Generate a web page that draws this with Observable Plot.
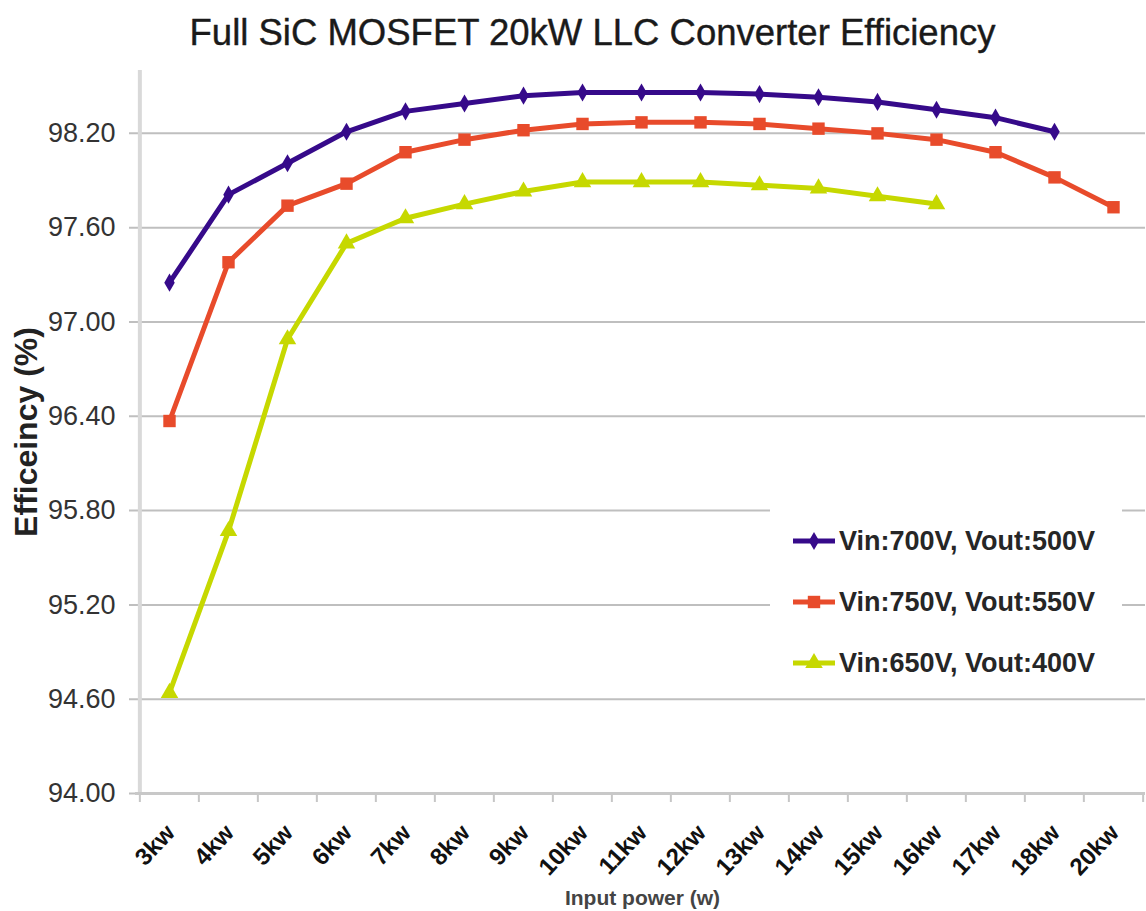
<!DOCTYPE html>
<html>
<head>
<meta charset="utf-8">
<script src="https://cdn.jsdelivr.net/npm/d3@7"></script>
<script src="https://cdn.jsdelivr.net/npm/@observablehq/plot@0.6"></script>
<style>
  html, body { margin: 0; padding: 0; background: #fff; }
  #wrap { position: relative; width: 1146px; height: 911px; font-family: "Liberation Sans", Arial, sans-serif; }
  #legend { position: absolute; left: 770px; top: 495px; width: 352px; height: 197px; background: #fff; }
  .entry { position: absolute; left: 23px; height: 40px; display: flex; align-items: center; }
  .entry span { font-size: 27px; font-weight: bold; color: #262626; margin-left: 2px; white-space: nowrap; }
</style>
</head>
<body>
<div id="wrap"></div>
<script>
// ---- data ----
const categories = ["3kw","4kw","5kw","6kw","7kw","8kw","9kw","10kw","11kw","12kw","13kw","14kw","15kw","16kw","17kw","18kw","20kw"];
const seriesNames = ["Vin:700V, Vout:500V", "Vin:750V, Vout:550V", "Vin:650V, Vout:400V"];
const vin700 = [97.25, 97.81, 98.01, 98.21, 98.34, 98.39, 98.44, 98.46, 98.46, 98.46, 98.45, 98.43, 98.40, 98.35, 98.30, 98.21];
const vin750 = [96.37, 97.38, 97.74, 97.88, 98.08, 98.16, 98.22, 98.26, 98.27, 98.27, 98.26, 98.23, 98.20, 98.16, 98.08, 97.92, 97.73];
const vin650 = [94.64, 95.67, 96.89, 97.50, 97.66, 97.75, 97.83, 97.89, 97.89, 97.89, 97.87, 97.85, 97.80, 97.75];
const yTicks = [94.0, 94.6, 95.2, 95.8, 96.4, 97.0, 97.6, 98.2];
const titleText = "Full SiC MOSFET 20kW LLC Converter Efficiency";
const yTitle = "Efficeincy (%)";
const xTitle = "Input power (w)";

// ---- styles ----
const colors = ["#360a8a", "#e84b2b", "#c6d800"];
const symbols = ["diamond", "square", "triangle"];
const radii = [5.5, 7, 6.5];

const W = 1146, H = 911;
const mL = 137, mR = 1, mT = 70, mB = 118;
const frameH = H - mT - mB;
const step = (W - mL - mR) / categories.length;

const seriesValues = [vin700, vin750, vin650];
const tables = seriesValues.map((vals, s) => vals.map((v, i) => ({cat: categories[i], value: v, series: seriesNames[s]})));

const lineMarks = [];
tables.forEach((t, s) => {
  lineMarks.push(Plot.line(t, {x: "cat", y: "value", stroke: colors[s], strokeWidth: 5, strokeLinejoin: "round"}));
});
tables.forEach((t, s) => {
  lineMarks.push(Plot.dot(t, {x: "cat", y: "value", fill: colors[s], stroke: "none", symbol: symbols[s], r: radii[s]}));
});

const chart = Plot.plot({
  width: W, height: H,
  marginLeft: mL, marginRight: mR, marginTop: mT, marginBottom: mB,
  style: {fontFamily: "'Liberation Sans', Arial, sans-serif", background: "#fff", overflow: "visible"},
  x: {type: "point", domain: categories, padding: 0.5},
  y: {domain: [94, 98.6]},
  marks: [
    // gridlines (extend left as ticks)
    Plot.ruleY(yTicks, {stroke: "#bfbfbf", strokeWidth: 2, insetLeft: -8}),
    // category boundary ticks
    Plot.ruleX(categories, {x: d => d, dx: -step / 2, insetTop: frameH, insetBottom: -9, stroke: "#c6c6c6", strokeWidth: 2}),
    Plot.ruleX([categories[categories.length - 1]], {x: d => d, dx: step / 2, insetTop: frameH, insetBottom: -9, stroke: "#c6c6c6", strokeWidth: 2}),
    // axis lines
    Plot.ruleX([categories[0]], {x: d => d, dx: -step / 2, stroke: "#d9d9d9", strokeWidth: 4}),
    Plot.ruleY([94], {stroke: "#c8c8c8", strokeWidth: 3, insetLeft: -2}),
    Plot.axisY({ticks: yTicks, tickFormat: d3.format(".2f"), tickSize: 0, tickPadding: 22, fontSize: 27, fill: "#333", label: null}),
    Plot.axisX({tickSize: 0, tickRotate: -47, tickPadding: 35, dx: 1, fontSize: 24, fontWeight: "bold", fill: "#111", label: null}),
    ...lineMarks,
    Plot.text([titleText], {text: d => d, frameAnchor: "top", dx: -49, dy: -51, fontSize: 36.5, fill: "#1a1a1a", stroke: "#1a1a1a", strokeWidth: 0.4}),
    Plot.text([yTitle], {text: d => d, frameAnchor: "left", textAnchor: "middle", dx: -111, rotate: -90, fontSize: 32, fontWeight: "bold", fill: "#222"}),
    Plot.text([xTitle], {text: d => d, frameAnchor: "bottom", dx: 1, dy: 111, fontSize: 21, fontWeight: "bold", fill: "#444"})
  ]
});
const wrap = document.getElementById("wrap");
wrap.appendChild(chart);

// ---- legend overlay ----
const legend = document.createElement("div");
legend.id = "legend";
const symMap = {diamond: d3.symbolDiamond, square: d3.symbolSquare, triangle: d3.symbolTriangle};
const entryCenters = [46, 107, 168];
seriesNames.forEach((name, s) => {
  const e = document.createElement("div");
  e.className = "entry";
  e.style.top = (entryCenters[s] - 20) + "px";
  const path = d3.symbol(symMap[symbols[s]], Math.PI * radii[s] * radii[s])();
  e.innerHTML = `<svg width="44" height="40" viewBox="0 0 44 40"><line x1="0" x2="42" y1="20" y2="20" stroke="${colors[s]}" stroke-width="5"/><path transform="translate(21,20)" d="${path}" fill="${colors[s]}"/></svg><span>${name}</span>`;
  legend.appendChild(e);
});
wrap.appendChild(legend);
</script>
</body>
</html>
